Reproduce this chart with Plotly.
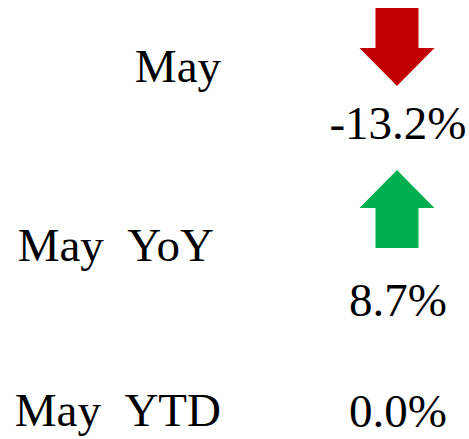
import plotly.graph_objects as go

# data
labels = ["May", "May\u00a0\u00a0YoY", "May\u00a0\u00a0YTD"]
changes = [-13.2, 8.7, 0.0]

# layout (pixel-ish coordinates, y grows downward)
W, H = 469, 439
label_x = [221, 214, 221]
label_y = [70, 249, 414]
value_x = 398
value_y = [127, 304, 415]
arrow_top = [8, 170, None]
ARROW_LEN, HEAD_LEN = 78, 38
SHAFT_HALF, HEAD_HALF = 21.5, 37.5
RED, GREEN = "#C00000", "#00B050"
FONT = "Liberation Serif, Times New Roman, serif"


def arrow_path(cx, top, down):
    # block arrow outline, pointing down or up
    if down:
        ys = [top, top, top + ARROW_LEN - HEAD_LEN, top + ARROW_LEN - HEAD_LEN,
              top + ARROW_LEN, top + ARROW_LEN - HEAD_LEN, top + ARROW_LEN - HEAD_LEN, top]
    else:
        bot = top + ARROW_LEN
        ys = [bot, bot, top + HEAD_LEN, top + HEAD_LEN, top, top + HEAD_LEN, top + HEAD_LEN, bot]
    xs = [cx - SHAFT_HALF, cx + SHAFT_HALF, cx + SHAFT_HALF, cx + HEAD_HALF,
          cx, cx - HEAD_HALF, cx - SHAFT_HALF, cx - SHAFT_HALF]
    return xs, ys


fig = go.Figure()

for i, v in enumerate(changes):
    if v == 0 or arrow_top[i] is None:
        continue
    xs, ys = arrow_path(397, arrow_top[i], v < 0)
    color = RED if v < 0 else GREEN
    fig.add_trace(go.Scatter(
        x=xs, y=ys, mode="lines", fill="toself",
        fillcolor=color, line=dict(color=color, width=0),
        hoverinfo="skip", showlegend=False
    ))

fig.add_trace(go.Scatter(
    x=label_x, y=label_y, mode="text",
    text=labels, textposition="middle left",
    textfont=dict(family=FONT, size=47, color="black"),
    showlegend=False
))

fig.add_trace(go.Scatter(
    x=[value_x] * len(changes), y=value_y, mode="text",
    text=[f"{v:.1f}%" for v in changes], textposition="middle center",
    textfont=dict(family=FONT, size=47, color="black"),
    showlegend=False
))

fig.update_layout(
    width=W, height=H,
    margin=dict(l=0, r=0, t=0, b=0),
    paper_bgcolor="white", plot_bgcolor="white",
)
fig.update_xaxes(range=[0, W], visible=False, fixedrange=True)
fig.update_yaxes(range=[H, 0], visible=False, fixedrange=True)

fig.write_html(
    "out.html",
    config={"displayModeBar": False},
    post_script="document.body.style.margin='0';",
)
